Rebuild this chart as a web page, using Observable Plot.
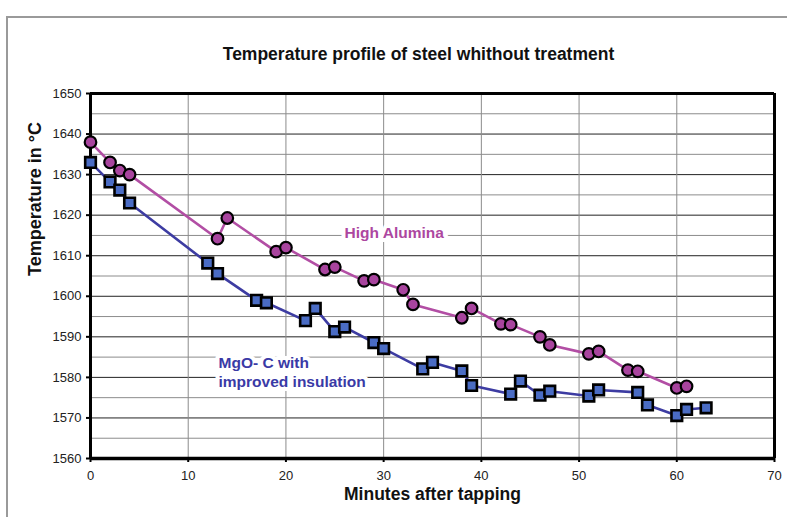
<!DOCTYPE html>
<html><head><meta charset="utf-8">
<script src="https://cdn.jsdelivr.net/npm/d3@7"></script>
<script src="https://cdn.jsdelivr.net/npm/@observablehq/plot@0.6"></script>
<style>
body{margin:0;background:#fff;}
#wrap{position:relative;width:787px;height:517px;overflow:hidden;}
#border{position:absolute;left:6px;top:16px;width:800px;height:520px;border-left:2px solid #9a9a9a;border-top:2px solid #9a9a9a;}
#chart{position:absolute;left:0;top:0;}
</style>
</head><body>
<div id="wrap"><div id="border"></div><div id="chart"></div></div>
<script>
const titleText = "Temperature profile of steel whithout treatment";
const xLabel = "Minutes after tapping";
const yLabel = "Temperature in °C";
const aluminaName = "High Alumina";
const mgoName = ["MgO- C with", "improved insulation"];

const aluminaMinutes = [0, 2, 3, 4, 13, 14, 19, 20, 24, 25, 28, 29, 32, 33, 38, 39, 42, 43, 46, 47, 51, 52, 55, 56, 60, 61];
const aluminaTemps   = [1638, 1633, 1631, 1630, 1614.2, 1619.3, 1611, 1612, 1606.6, 1607.2, 1603.8, 1604.1, 1601.6, 1598, 1594.7, 1597, 1593.2, 1593, 1590, 1588, 1585.8, 1586.4, 1581.8, 1581.5, 1577.4, 1577.8];

const mgoMinutes = [0, 2, 3, 4, 12, 13, 17, 18, 22, 23, 25, 26, 29, 30, 34, 35, 38, 39, 43, 44, 46, 47, 51, 52, 56, 57, 60, 61, 63];
const mgoTemps   = [1633, 1628.2, 1626.2, 1623, 1608.2, 1605.6, 1599, 1598.4, 1594, 1597, 1591.3, 1592.4, 1588.6, 1587.1, 1582.1, 1583.7, 1581.6, 1578, 1575.9, 1579.1, 1575.6, 1576.6, 1575.4, 1576.9, 1576.3, 1573.2, 1570.6, 1572.1, 1572.5];

const xTicks = [0, 10, 20, 30, 40, 50, 60, 70];
const yTicks = [1560, 1570, 1580, 1590, 1600, 1610, 1620, 1630, 1640, 1650];
const yMinor = [1565, 1575, 1585, 1595, 1605, 1615, 1625, 1635, 1645];

const alumina = aluminaMinutes.map((m, i) => ({minute: m, temp: aluminaTemps[i]}));
const mgo = mgoMinutes.map((m, i) => ({minute: m, temp: mgoTemps[i]}));

const font = "'Liberation Sans', Arial, sans-serif";
const purpleLine = "#b24ea4", purpleFill = "#a8449e", purpleText = "#ad479f";
const blueLine = "#3d3ca2", blueFill = "#4a6cc4", blueText = "#3a3aa6";

const chart = Plot.plot({
  width: 787,
  height: 517,
  marginLeft: 90,
  marginRight: 13,
  marginTop: 93,
  marginBottom: 59,
  style: {fontFamily: font, fontSize: "13px", background: "transparent", overflow: "visible"},
  x: {domain: [0, 70]},
  y: {domain: [1560, 1650]},
  marks: [
    Plot.ruleY(yMinor, {stroke: "#8c8c8c", strokeWidth: 1}),
    Plot.ruleY(yTicks, {stroke: "#222", strokeWidth: 1}),
    Plot.ruleX(xTicks, {stroke: "#8c8c8c", strokeWidth: 1}),
    Plot.ruleY([1650], {stroke: "#000", strokeWidth: 3}),
    Plot.ruleX([70], {stroke: "#000", strokeWidth: 3}),
    Plot.ruleX([0], {stroke: "#000", strokeWidth: 3}),
    Plot.ruleY([1560], {stroke: "#000", strokeWidth: 3.5}),
    Plot.axisY({ticks: yTicks, tickFormat: d => String(d), tickSize: 4, tickPadding: 5, fontSize: 13, label: null, stroke: "#000", strokeWidth: 2, color: "#222"}),
    Plot.axisX({ticks: xTicks, tickFormat: d => String(d), tickSize: 4, tickPadding: 8, fontSize: 13, label: null, stroke: "#000", strokeWidth: 2, color: "#222"}),
    Plot.text([aluminaName], {x: 26, y: 1615.5, text: d => d, textAnchor: "start", fill: purpleText, fontWeight: "bold", fontSize: 15.5, stroke: "white", strokeWidth: 8, paintOrder: "stroke"}),
    Plot.text([mgoName.join("\n")], {x: 13.1, y: 1581.4, text: d => d, textAnchor: "start", fill: blueText, fontWeight: "bold", fontSize: 15.5, lineHeight: 1.22, stroke: "white", strokeWidth: 8, paintOrder: "stroke"}),
    Plot.line(alumina, {x: "minute", y: "temp", stroke: purpleLine, strokeWidth: 2.6}),
    Plot.line(mgo, {x: "minute", y: "temp", stroke: blueLine, strokeWidth: 2.6}),
    Plot.dot(alumina, {x: "minute", y: "temp", r: 5.8, fill: purpleFill, stroke: "#000", strokeWidth: 2.2}),
    Plot.dot(mgo, {x: "minute", y: "temp", symbol: "square", r: 6, fill: blueFill, stroke: "#000", strokeWidth: 2.6}),
    Plot.text([titleText], {frameAnchor: "top", dx: -14, dy: -46, text: d => d, fontWeight: "bold", fontSize: 17.5, fill: "#111"}),
    Plot.text([yLabel], {frameAnchor: "left", dx: -55, dy: 0, rotate: -90, text: d => d, fontWeight: "bold", fontSize: 18, fill: "#111"}),
    Plot.text([xLabel], {frameAnchor: "bottom", dy: 41, text: d => d, fontWeight: "bold", fontSize: 17.5, fill: "#111"})
  ]
});
document.getElementById("chart").appendChild(chart);
</script>
</body></html>
